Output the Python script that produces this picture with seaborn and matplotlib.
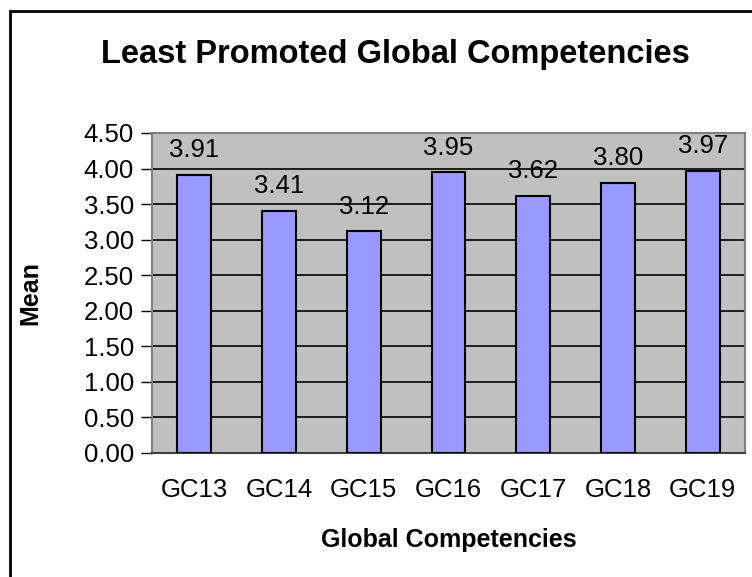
import matplotlib
matplotlib.use("Agg")
import matplotlib.pyplot as plt
import seaborn as sns
import pandas as pd
from matplotlib.patches import Rectangle

categories = ["GC13", "GC14", "GC15", "GC16", "GC17", "GC18", "GC19"]
means = [3.91, 3.41, 3.12, 3.95, 3.62, 3.80, 3.97]
yticks = [0.0, 0.5, 1.0, 1.5, 2.0, 2.5, 3.0, 3.5, 4.0, 4.5]

df = pd.DataFrame({"Global Competencies": categories, "Mean": means})

sns.set_theme(style="white")
plt.rcParams['font.family'] = ['Liberation Sans', 'DejaVu Sans']
plt.rcParams['text.color'] = 'black'
plt.rcParams['axes.labelcolor'] = 'black'
plt.rcParams['xtick.color'] = 'black'
plt.rcParams['ytick.color'] = 'black'

fig = plt.figure(figsize=(7.52, 5.77), dpi=100)
ax = fig.add_axes([152/752, 1-453/577, (745-152)/752, (453-133)/577])
ax.set_facecolor("#C0C0C0")

sns.barplot(data=df, x="Global Competencies", y="Mean", color="#9999FF",
            width=0.4, edgecolor="black", linewidth=1.5, saturation=1, ax=ax, zorder=3)

ax.set_ylim(0, 4.5)
ax.set_xlim(-0.5, len(categories) - 0.5)
ax.set_yticks(yticks)
ax.set_yticklabels([f"{v:.2f}" for v in yticks], fontsize=18.5, color="black")
ax.yaxis.grid(True, color="black", linewidth=1.2, zorder=0)
ax.set_axisbelow(True)

ax.set_xticks(range(len(categories)))
ax.set_xticklabels(categories, fontsize=18.5, color="black")
ax.tick_params(axis="x", which="major", length=0, pad=18)
ax.set_xticks([i - 0.5 for i in range(len(categories) + 1)], minor=True)
ax.tick_params(axis="x", which="minor", length=8, width=1, color="#444444", direction="out")
ax.tick_params(axis="y", length=8, width=1, color="black", direction="out", pad=5, left=True)

for s in ["top", "right", "left"]:
    ax.spines[s].set_color("#808080")
    ax.spines[s].set_linewidth(1.5)
ax.spines["bottom"].set_color("#404040")
ax.spines["bottom"].set_linewidth(1.5)

for i, v in enumerate(means):
    ax.annotate(f"{v:.2f}", (i, v), xytext=(0, 9), textcoords="offset points",
                ha="center", va="bottom", fontsize=18.5, color="black", zorder=5,
                annotation_clip=False)

ax.set_xlabel("Global Competencies", fontsize=18, fontweight="bold", labelpad=19, color="black")
ax.set_ylabel("Mean", fontsize=18, fontweight="bold", labelpad=30, color="black")

fig.text(395/752, 1-55/577, "Least Promoted Global Competencies", ha="center", va="center",
         fontsize=23.5, fontweight="bold", color="black")

fig.patches.append(Rectangle((10/752, -0.05), 1.0, 1.05 - 11/577,
                             transform=fig.transFigure, fill=False, edgecolor="black",
                             linewidth=2))

fig.savefig("out.png", dpi=100)
